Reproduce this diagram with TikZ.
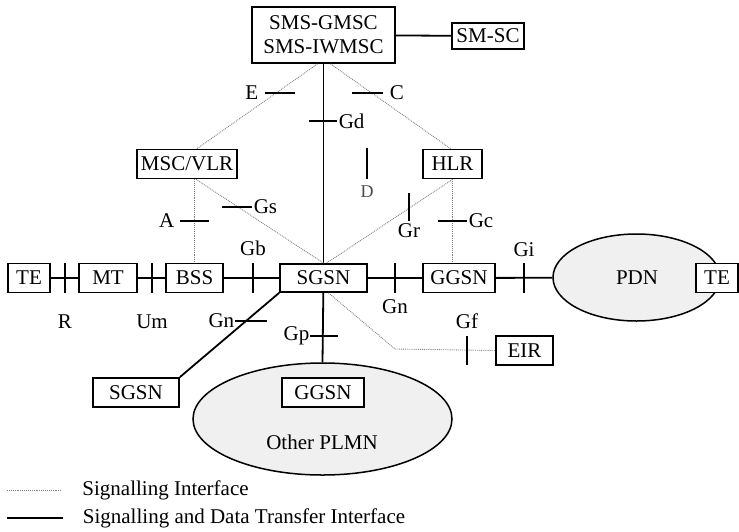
\documentclass[tikz,border=0pt]{standalone}
\usepackage{fontspec}
\setmainfont{Liberation Serif}
\usetikzlibrary{shapes.geometric}
\begin{document}
\begin{tikzpicture}[x=1pt, y=-1pt,
        box/.style={draw, fill=white, line width=1.8pt, minimum height=29pt, inner sep=0pt, font=\fontsize{21}{24}\selectfont},
        net/.style={ellipse, draw, line width=1.5pt, fill=gray!12, inner sep=0pt},
        sig/.style={densely dotted, gray, line width=0.9pt},
        data/.style={line width=1.8pt},
        tick/.style={line width=1.5pt},
        lbl/.style={inner sep=0pt, text=black, font=\fontsize{21}{24}\selectfont}]
    \useasboundingbox (0,0) rectangle (739,531);
    % networks
    \node[net, minimum width=167pt, minimum height=87pt] (pdn) at (636.5,277.5) {};
    \node[net, minimum width=259pt, minimum height=112pt] (plmn) at (322.5,419) {};
    \node[lbl] (pdnlbl) at (637,278) {PDN};
    \node[lbl] (plmnlbl) at (322,442) {Other PLMN};
    % network elements
    \node[box, minimum width=143pt, minimum height=56pt, align=center] (sms) at (323.5,35) {SMS-GMSC\\SMS-IWMSC};
    \node[box, minimum width=72pt, minimum height=26pt] (smsc) at (488,36) {SM-SC};
    \node[box, minimum width=100pt] (msc) at (187,164) {MSC/VLR};
    \node[box, minimum width=59pt] (hlr) at (452.5,164) {HLR};
    \node[box, minimum width=42pt] (te) at (29,278) {TE};
    \node[box, minimum width=58pt] (mt) at (108,278) {MT};
    \node[box, minimum width=57pt] (bss) at (194.5,278) {BSS};
    \node[box, minimum width=87pt, minimum height=28pt] (sgsn) at (323.5,278) {SGSN};
    \node[box, minimum width=72pt] (ggsn) at (459,278) {GGSN};
    \node[box, minimum width=42pt] (tepdn) at (717,278) {TE};
    \node[box, minimum width=57pt] (eir) at (524.5,350.5) {EIR};
    \node[box, minimum width=86pt] (sgsnb) at (136,392.5) {SGSN};
    \node[box, minimum width=82pt] (ggsnb) at (323,392.5) {GGSN};
    % signalling and data transfer
    \draw[data] (te) -- (mt);
    \draw[data] (mt) -- (bss);
    \draw[data] (bss) -- (sgsn);
    \draw[data] (sgsn) -- (ggsn);
    \draw[data] (ggsn) -- (pdn);
    \draw[data] (sms) -- (smsc);
    \draw[data] (sms) -- (sgsn);
    \draw[data] (sgsn.south west) -- (sgsnb.north east);
    \draw[data] (sgsn) -- (plmn.north);
    % signalling only
    \coordinate (gfbend) at (395,349);
    \draw[sig] ([xshift=-6pt]sms.south) -- ([xshift=10pt]msc.north);
    \draw[sig] ([xshift=7pt]sms.south) -- ([xshift=-2pt]hlr.north);
    \draw[sig] (bss.north |- msc.south) -- (bss.north);
    \draw[sig] ([xshift=9pt]msc.south) -- (sgsn.north);
    \draw[sig] (hlr.south) -- ([xshift=3pt]sgsn.north);
    \draw[sig] (hlr.south) -- (hlr.south |- ggsn.north);
    \draw[sig] ([xshift=5pt]sgsn.south) -- (gfbend) -- (eir.west);
    % interface marks
    \foreach \x/\t/\ly in {65/R/322, 152/Um/322, 253/Gb/248, 395/Gn/307, 524/Gi/250}
        \draw[tick] (\x,263) -- (\x,293) node[lbl] (if\t) at (\x,\ly) {\t};
    \draw[tick] (309,121) -- (337,121) node[lbl, anchor=west] (ifGd) at (338,121) {Gd};
    \draw[tick] (265,93) -- (295,93) node[lbl, anchor=east] (ifE) at (259,93) {E};
    \draw[tick] (352,93) -- (383,93) node[lbl, anchor=west] (ifC) at (389,93) {C};
    \draw[tick] (180,221) -- (209,221) node[lbl, anchor=east] (ifA) at (175,221) {A};
    \draw[tick] (222,207) -- (252,207) node[lbl, anchor=west] (ifGs) at (253,207) {Gs};
    \draw[tick] (409,193) -- (409,221) node[lbl] (ifGr) at (409,231) {Gr};
    \draw[tick] (438,221) -- (467,221) node[lbl, anchor=west] (ifGc) at (468,221) {Gc};
    \draw[tick] (235,321) -- (267,321) node[lbl, anchor=east] (ifGnb) at (235,321) {Gn};
    \draw[tick] (310,336) -- (338,336) node[lbl, anchor=east] (ifGp) at (310,336) {Gp};
    \draw[tick] (467,336) -- (467,365) node[lbl] (ifGf) at (467,321) {Gf};
    \draw[tick] (367,148) -- (367,179) node[lbl, text=black!70, font=\fontsize{18}{21}\selectfont] (ifD) at (367,192) {D};
    % legend
    \draw[sig] (7,490) -- (62,490) node[lbl, anchor=west] (keysig) at (82,490) {Signalling Interface};
    \draw[data] (7,518) -- (63,518) node[lbl, anchor=west] (keydata) at (82,518) {Signalling and Data Transfer Interface};
\end{tikzpicture}
\end{document}
